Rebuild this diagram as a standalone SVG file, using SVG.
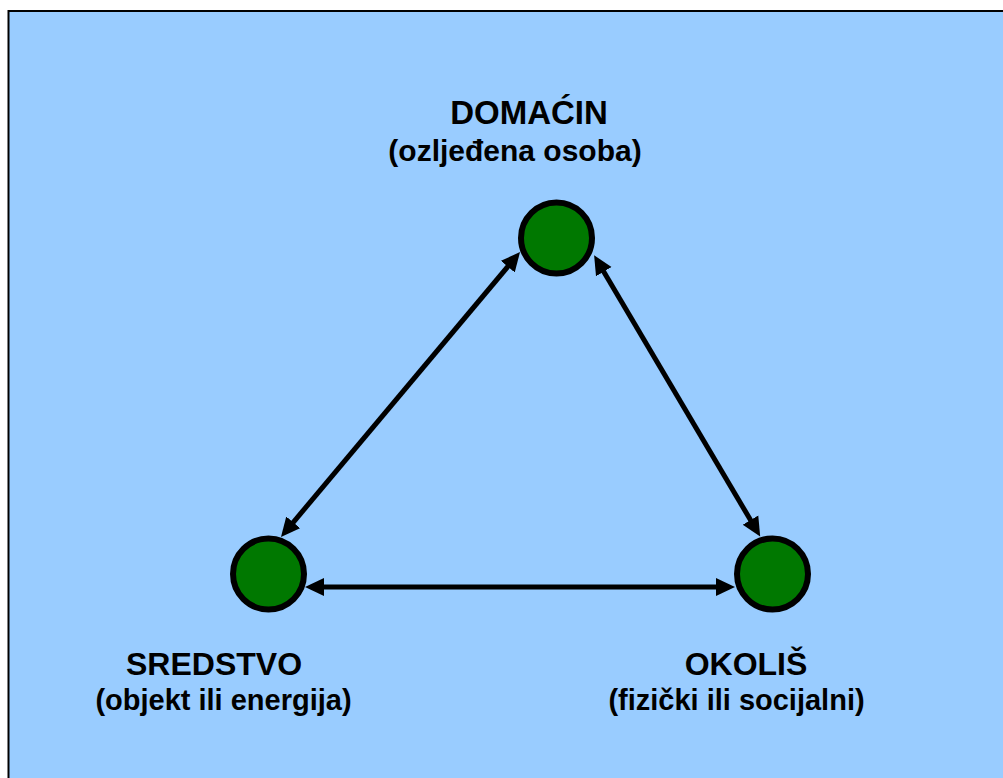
<svg xmlns="http://www.w3.org/2000/svg" width="1003" height="778" viewBox="0 0 1003 778">
<style>
.node circle{fill:#007800;stroke:#000;stroke-width:6}
.t{font-family:"Liberation Sans",Arial,sans-serif;font-weight:bold;font-size:29px;fill:#000;text-anchor:middle}
.h{font-size:32px}
.c line{stroke:#000;stroke-width:5;marker-start:url(#ah);marker-end:url(#ah)}
</style>
<defs>
<marker id="ah" markerUnits="userSpaceOnUse" markerWidth="20" markerHeight="20" viewBox="0 0 20 20" refX="9" refY="10" orient="auto-start-reverse">
<path d="M0,1 L19,10 L0,19 z" fill="#000"/>
</marker>
</defs>
<rect x="0" y="0" width="1003" height="778" fill="#fff"/>
<rect x="8.5" y="11" width="1010" height="800" fill="#99CCFF" stroke="#000" stroke-width="2"/>
<g class="c" id="connectors">
<line x1="287.4" y1="529.3" x2="513.6" y2="259.7"/>
<line x1="599.2" y1="263.9" x2="755.1" y2="527.8"/>
<line x1="315" y1="587" x2="725" y2="587"/>
</g>
<g class="node" id="domacin">
<circle cx="556.5" cy="238" r="35.5"/>
<text class="t h" x="529" y="124" style="font-size:33px">DOMAĆIN</text>
<text class="t" x="515" y="161" style="font-size:30px">(ozljeđena osoba)</text>
</g>
<g class="node" id="sredstvo">
<circle cx="268.5" cy="574" r="35.5"/>
<text class="t h" x="214" y="675">SREDSTVO</text>
<text class="t" x="223.5" y="710">(objekt ili energija)</text>
</g>
<g class="node" id="okolis">
<circle cx="772.5" cy="574" r="35.5"/>
<text class="t h" x="746" y="675">OKOLIŠ</text>
<text class="t" x="736.5" y="710">(fizički ili socijalni)</text>
</g>
</svg>
